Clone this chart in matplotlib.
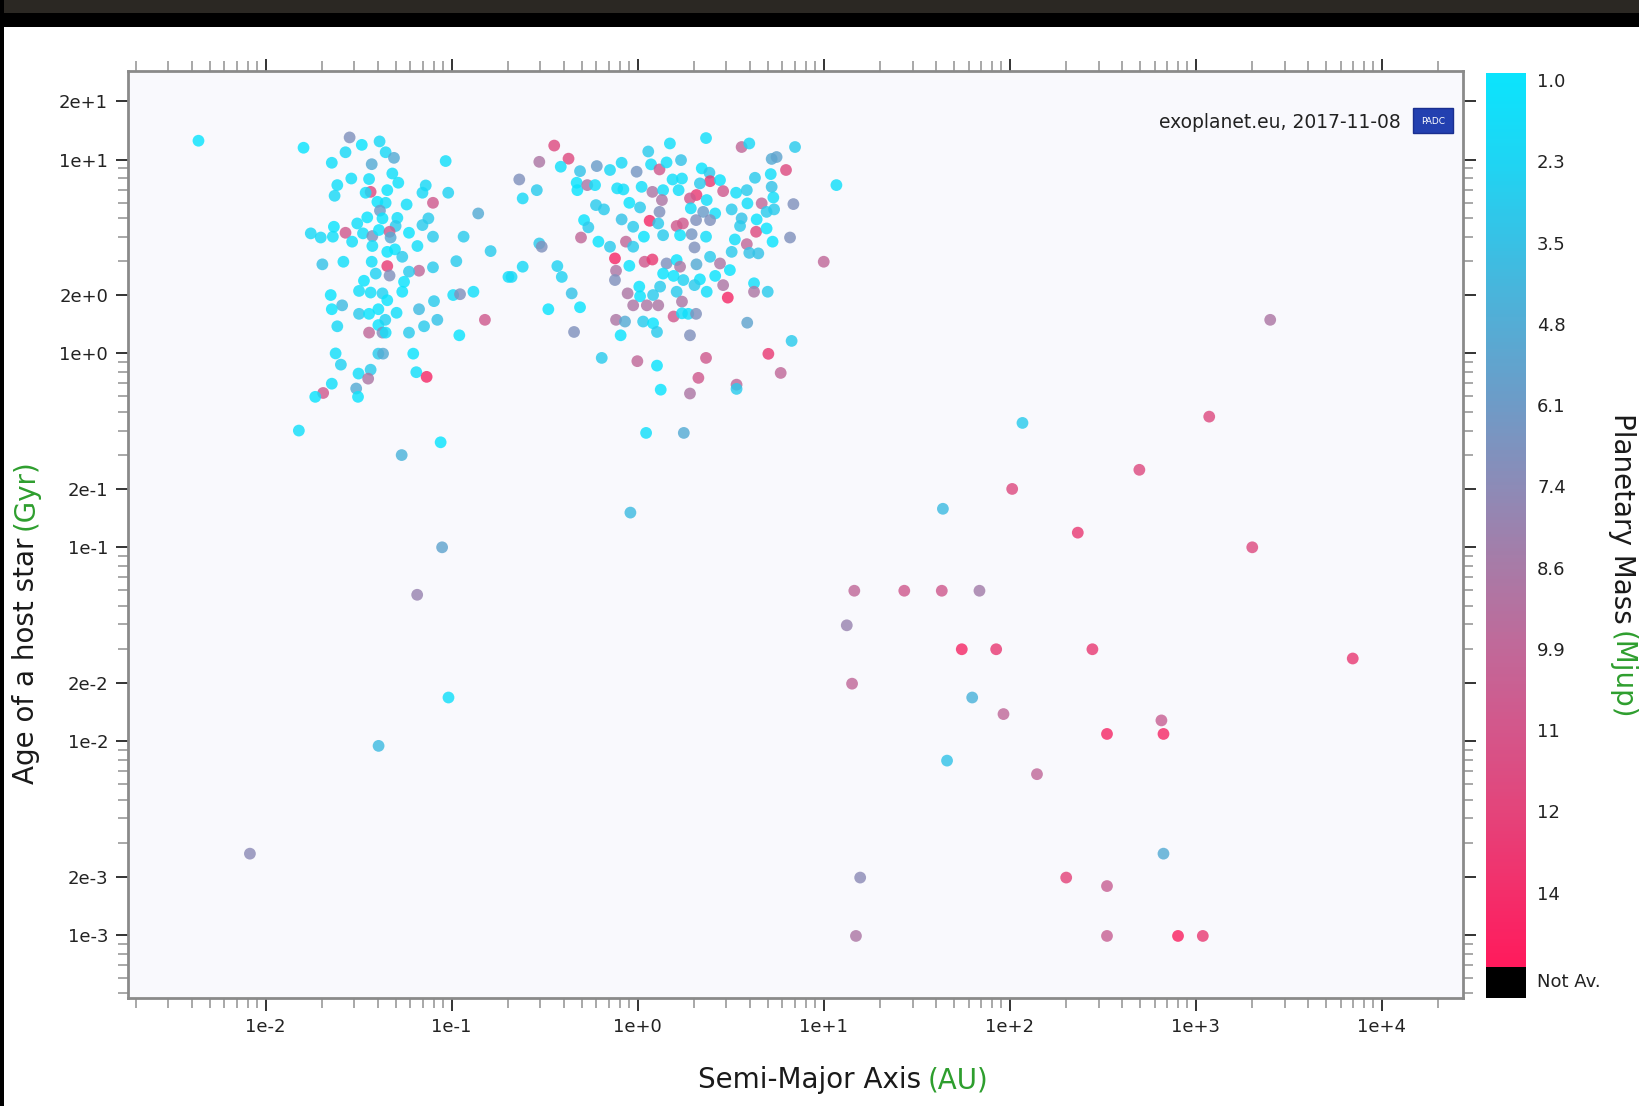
import numpy as np
import matplotlib.pyplot as plt
from matplotlib.colors import LinearSegmentedColormap, Normalize
from matplotlib.ticker import FuncFormatter, NullFormatter
from matplotlib.patches import Rectangle

# ---- data (semi-major axis [AU], host age [Gyr], mass [Mjup])
inner_sma = [
    0.00436, 0.0160, 0.0283, 0.0329, 0.0410, 0.0269, 0.0442, 0.0490, 0.0227, 0.0372,
    0.0929, 0.0480, 0.0289, 0.0360, 0.0517, 0.0243, 0.0726, 0.0235, 0.0367, 0.0345,
    0.0451, 0.0697, 0.0959, 0.0399, 0.0442, 0.0573, 0.0794, 0.139, 0.0412, 0.0352,
    0.0425, 0.0511, 0.0311, 0.0500, 0.0750, 0.0697, 0.0233, 0.0175, 0.0198, 0.0230,
    0.0269, 0.0334, 0.0375, 0.0407, 0.0464, 0.0470, 0.0590, 0.0794, 0.116, 0.0292,
    0.0375, 0.0655, 0.162, 0.0451, 0.0496, 0.0543, 0.0202, 0.0262, 0.0372, 0.0451,
    0.106, 0.0794, 0.0668, 0.0590, 0.0391, 0.0464, 0.202, 0.0338, 0.0555, 0.0318,
    0.0367, 0.0425, 0.0451, 0.0543, 0.0224, 0.0804, 0.102, 0.111, 0.131, 0.0258,
    0.0668, 0.0227, 0.0318, 0.0360, 0.0404, 0.0506, 0.0243, 0.0404, 0.0440, 0.0360,
    0.0425, 0.0442, 0.0590, 0.0711, 0.0838, 0.151, 0.110, 0.0238, 0.0254, 0.0404,
    0.0428, 0.0622, 0.0367, 0.0316, 0.0356, 0.0646, 0.0734, 0.0227, 0.0204, 0.0185,
    0.0307, 0.0314, 0.0151, 0.0873, 0.0539,
]
inner_age = [
    12.5, 11.5, 13.0, 11.9, 12.4, 10.9, 10.9, 10.2, 9.62, 9.46,
    9.82, 8.47, 7.98, 7.93, 7.59, 7.38, 7.35, 6.50, 6.81, 6.74,
    6.95, 6.74, 6.74, 6.05, 5.98, 5.86, 5.98, 5.27, 5.45, 5.03,
    4.97, 5.00, 4.68, 4.54, 4.97, 4.59, 4.50, 4.16, 3.96, 4.00,
    4.19, 4.16, 4.03, 4.33, 4.24, 3.96, 4.19, 4.00, 4.00, 3.77,
    3.58, 3.58, 3.37, 3.34, 3.44, 3.15, 2.88, 2.97, 2.97, 2.82,
    2.99, 2.78, 2.67, 2.64, 2.58, 2.52, 2.48, 2.37, 2.34, 2.10,
    2.06, 2.04, 1.88, 2.08, 2.00, 1.86, 2.00, 2.02, 2.08, 1.77,
    1.69, 1.69, 1.60, 1.60, 1.69, 1.62, 1.38, 1.40, 1.49, 1.28,
    1.28, 1.28, 1.28, 1.38, 1.49, 1.49, 1.24, 1.00, 0.875, 0.997,
    0.997, 0.997, 0.824, 0.787, 0.741, 0.800, 0.757, 0.698, 0.625, 0.597,
    0.659, 0.597, 0.400, 0.348, 0.299,
]
inner_mass = [
    1, 1, 7, 1, 2, 2, 2, 5, 1.5, 5,
    1.5, 1.5, 1.5, 1.5, 1.3, 1.5, 2, 2, 12, 1.5,
    1, 2, 2.5, 1, 1.5, 1.5, 11, 5, 6, 1,
    1, 1.5, 1.5, 3, 3, 3, 1, 2, 2, 1.5,
    11, 1.5, 7, 1, 11, 5, 1, 3, 3, 1.5,
    1.5, 1.5, 3, 1, 1, 3, 3.5, 1.5, 1.5, 13,
    3, 3, 10, 3, 2.5, 7, 1.5, 1, 1, 1.5,
    1.5, 2.5, 1, 1, 1, 3, 1.5, 7, 1.5, 4,
    4, 1, 3, 1, 1, 1.5, 2, 1, 2.5, 10,
    7, 1.5, 3, 3, 3.5, 11, 1, 1.5, 2.5, 3,
    5, 1, 3, 1.5, 9, 1.5, 14, 1.5, 11, 1,
    5, 1, 1.5, 1, 4.5,
]

mid_sma = [
    0.356, 0.425, 0.296, 0.386, 0.231, 0.287, 0.241, 0.490, 0.603, 0.710,
    0.820, 0.987, 1.14, 1.49, 2.33, 1.18, 1.31, 1.43, 1.71, 3.62,
    3.98, 7.01, 5.25, 5.58, 6.27, 11.7, 0.470, 0.474, 0.536, 0.590,
    0.776, 0.838, 1.05, 1.20, 1.37, 1.54, 1.73, 1.66, 2.21, 2.43,
    2.45, 2.77, 2.16, 2.07, 1.91, 2.35, 2.88, 3.38, 3.86, 4.27,
    5.19, 5.25, 5.36, 4.64, 3.89, 6.87, 0.597, 0.659, 0.902, 1.03,
    1.35, 1.31, 1.93, 2.25, 2.61, 3.20, 3.62, 4.36, 4.93, 5.41,
    0.515, 0.543, 0.820, 0.946, 1.16, 1.29, 1.62, 1.75, 2.06, 2.45,
    3.55, 4.33, 4.93, 0.496, 0.615, 0.710, 0.865, 0.946, 1.08, 1.37,
    1.69, 1.95, 2.33, 2.02, 3.33, 3.86, 5.31, 6.59, 0.296, 0.305,
    3.20, 3.98, 4.45, 10.0, 0.755, 0.902, 1.09, 1.20, 1.43, 1.62,
    1.69, 2.07, 2.45, 2.77, 3.13, 0.241, 0.210, 0.370, 0.391, 0.765,
    0.755, 1.37, 1.56, 1.76, 2.16, 2.61, 2.88, 1.02, 1.32, 1.62,
    2.02, 2.35, 3.05, 4.22, 4.22, 5.00, 0.442, 0.883, 1.03, 1.21,
    1.73, 0.946, 1.12, 1.29, 0.331, 0.490, 0.455, 0.765, 0.855, 1.07,
    1.21, 1.27, 1.56, 1.73, 1.87, 2.06, 1.91, 0.810, 3.88, 6.72,
    0.641, 0.996, 1.27, 2.33, 5.04, 2.12, 5.87, 1.33, 1.91, 3.40,
    3.40, 1.11, 1.77,
]
mid_age = [
    11.8, 10.1, 9.73, 9.18, 7.89, 6.95, 6.30, 8.71, 9.25, 8.83,
    9.62, 8.65, 11.0, 12.1, 12.9, 9.44, 8.89, 9.66, 9.93, 11.6,
    12.1, 11.6, 10.07, 10.3, 8.83, 7.38, 7.59, 6.95, 7.38, 7.38,
    7.10, 7.01, 7.23, 6.81, 6.95, 7.89, 7.98, 6.95, 9.00, 8.55,
    7.73, 7.83, 7.53, 6.56, 6.30, 6.18, 6.87, 6.74, 6.95, 8.05,
    8.41, 7.23, 6.37, 5.94, 5.94, 5.89, 5.82, 5.53, 5.98, 5.66,
    6.18, 5.37, 5.60, 5.37, 5.27, 5.53, 4.97, 4.91, 5.37, 5.53,
    4.87, 4.47, 4.91, 4.50, 4.83, 4.68, 4.54, 4.68, 4.87, 4.87,
    4.54, 4.24, 4.41, 3.96, 3.77, 3.55, 3.77, 3.55, 4.00, 4.07,
    4.07, 4.12, 4.00, 3.52, 3.87, 3.66, 3.77, 3.96, 3.69, 3.55,
    3.34, 3.30, 3.28, 2.97, 3.09, 2.83, 2.97, 3.05, 2.91, 3.03,
    2.80, 2.88, 3.15, 2.91, 2.69, 2.80, 2.48, 2.82, 2.48, 2.67,
    2.39, 2.58, 2.51, 2.39, 2.41, 2.51, 2.25, 2.21, 2.21, 2.08,
    2.25, 2.08, 1.94, 2.30, 2.08, 2.08, 2.04, 2.04, 1.97, 2.00,
    1.85, 1.77, 1.77, 1.77, 1.69, 1.73, 1.29, 1.49, 1.46, 1.46,
    1.43, 1.29, 1.55, 1.61, 1.60, 1.60, 1.24, 1.24, 1.44, 1.16,
    0.948, 0.912, 0.865, 0.948, 0.995, 0.748, 0.793, 0.650, 0.621, 0.690,
    0.656, 0.389, 0.389,
]
mid_mass = [
    12, 12, 9, 1.5, 7, 3, 2, 3.5, 6, 2,
    2, 6.5, 3, 1.5, 1.5, 1.5, 11, 1.5, 3.5, 10,
    2, 3, 5, 5.5, 12, 1.5, 1, 1, 9, 1.5,
    1.5, 1.5, 1.5, 9, 1.5, 1.5, 1.5, 1.5, 1, 3,
    13, 1, 3, 13, 11, 1.5, 11, 1.5, 3, 3,
    1.5, 3.5, 1.5, 10, 1.5, 7, 3, 3, 1, 3,
    9, 7, 1.5, 6, 1.5, 3, 3.5, 1, 3, 3,
    1, 3, 3.5, 3, 14, 3, 11, 11, 7, 7,
    3, 12, 1, 10, 1, 3, 10, 3, 1, 3,
    1, 6.5, 1.5, 7, 1.5, 10, 1, 7, 3, 7,
    3, 3.5, 3.5, 10, 14, 1, 11, 13, 7, 1,
    9, 5, 3, 9, 1, 2, 2, 2.5, 2.5, 9,
    7, 1, 1, 2.5, 1, 1, 9, 1, 3, 3,
    3, 1.5, 14, 1.5, 9, 3, 3.5, 9, 1, 3,
    9, 9, 9, 9, 1, 1, 7, 9, 5, 3,
    1, 3, 11, 1.5, 1.5, 7, 7, 1, 5.5, 3,
    3, 10, 1, 11, 13, 11, 10, 1, 9, 10,
    3, 1.5, 5,
]

young_sma = [0.914, 0.0889, 0.0653, 0.0962, 0.0405, 0.00824]
young_age = [0.151, 0.100, 0.0569, 0.0168, 0.00946, 0.00263]
young_mass = [4, 5.5, 8, 1.5, 4, 7.5]

outer_sma = [
    2510, 1180, 117, 497, 103, 43.7, 232, 2010, 14.6, 27.1,
    43.1, 68.7, 13.3, 55.2, 84.5, 278, 6970, 14.2, 62.8, 92.5,
    653, 333, 670, 46.0, 140, 670, 15.7, 201, 333, 14.9,
    333, 802, 1090,
]
outer_age = [
    1.49, 0.472, 0.438, 0.251, 0.200, 0.158, 0.119, 0.100, 0.0597, 0.0597,
    0.0597, 0.0597, 0.0396, 0.0298, 0.0298, 0.0298, 0.0267, 0.0198, 0.0168, 0.0138,
    0.0128, 0.0109, 0.0109, 0.00794, 0.00676, 0.00263, 0.00198, 0.00198, 0.00179, 0.00099,
    0.00099, 0.00099, 0.00099,
]
outer_mass = [
    9, 12, 3, 12, 12, 4, 13, 12, 10, 11,
    11, 8.5, 8, 14, 13, 13, 13, 10, 4.5, 10,
    10.5, 14, 14, 3.5, 10, 5, 7.5, 12.5, 10.5, 9,
    10.5, 14.5, 13,
]

mass_tick_labels = ['1.0', '2.3', '3.5', '4.8', '6.1', '7.4', '8.6', '9.9', '11', '12', '14']
mass_min, mass_max = 1.0, 15.0

sma = np.array(inner_sma + mid_sma + young_sma + outer_sma)
age = np.array(inner_age + mid_age + young_age + outer_age)
mass = np.array(inner_mass + mid_mass + young_mass + outer_mass)

cmap = LinearSegmentedColormap.from_list('exo', [
    '#0be4fd', '#1dd6f4', '#36c2e6', '#52aed6', '#6c9cc8', '#8a8cb8',
    '#a67ca8', '#bf6a9a', '#d2588c', '#e2467c', '#f2306c', '#ff1a5c'])
norm = Normalize(mass_min, mass_max)

W, H = 1639, 1106
fig = plt.figure(figsize=(W / 100, H / 100), dpi=100)

# window frame bits at the top / left of the screenshot
fig.add_artist(Rectangle((0, 1 - 13 / H), 1, 13 / H, transform=fig.transFigure,
                         facecolor='#2b2823', edgecolor='none'))
fig.add_artist(Rectangle((0, 1 - 27 / H), 1, 14 / H, transform=fig.transFigure,
                         facecolor='black', edgecolor='none'))
fig.add_artist(Rectangle((0, 0), 4 / W, 1, transform=fig.transFigure,
                         facecolor='black', edgecolor='none'))

ax = fig.add_axes([127.5 / W, 1 - 998.3 / H, (1463.4 - 127.5) / W, (998.3 - 71.1) / H])
ax.set_facecolor('#f9f9fd')
ax.scatter(sma, age, c=mass, cmap=cmap, norm=norm, s=72, alpha=0.82,
           edgecolors='none', zorder=3)
ax.set_xscale('log')
ax.set_yscale('log')
xlo, xhi = 10 ** -2.742, 10 ** 4.438
ylo, yhi = 10 ** -3.326, 10 ** 1.456
ax.set_xlim(xlo, xhi)
ax.set_ylim(ylo, yhi)


def decade_ticks(lo, hi, mults):
    out = []
    for e in range(int(np.floor(np.log10(lo))), int(np.ceil(np.log10(hi))) + 1):
        for m in mults:
            v = m * 10.0 ** e
            if lo <= v <= hi:
                out.append(v)
    return out


def xfmt(v, _):
    return "1e{:+d}".format(int(round(np.log10(v))))


def yfmt(v, _):
    e = int(np.floor(np.log10(v) + 1e-9))
    return "{:.0f}e{:+d}".format(v / 10 ** e, e)


ax.set_xticks(decade_ticks(xlo, xhi, [1]))
ax.set_xticks(decade_ticks(xlo, xhi, range(2, 10)), minor=True)
ax.set_yticks(decade_ticks(ylo, yhi, [1, 2]))
ax.set_yticks(decade_ticks(ylo, yhi, range(3, 10)), minor=True)
ax.xaxis.set_major_formatter(FuncFormatter(xfmt))
ax.xaxis.set_minor_formatter(NullFormatter())
ax.yaxis.set_major_formatter(FuncFormatter(yfmt))
ax.yaxis.set_minor_formatter(NullFormatter())

ax.tick_params(which='both', direction='out', top=True, right=True,
               labelsize=13, labelcolor='#222222', pad=5)
ax.tick_params(which='major', length=9, width=1.4, color='#333333')
ax.tick_params(which='minor', length=7.5, width=1.2, color='#9a9a9a')
for sp in ax.spines.values():
    sp.set_color('#8a8a8a')
    sp.set_linewidth(2)

# source note + badge
fig.text(1401 / W, 1 - 122 / H, 'exoplanet.eu, 2017-11-08',
         ha='right', va='center', fontsize=13.5, color='#222222')
fig.add_artist(Rectangle((1413 / W, 1 - 133 / H), 40 / W, 25 / H, transform=fig.transFigure,
                         facecolor='#2340b0', edgecolor='#1a2f90', zorder=5))
fig.text(1433 / W, 1 - 121 / H, 'PADC', color='white', fontsize=6.5,
         ha='center', va='center', zorder=6)

# colour bar
cax = fig.add_axes([1486 / W, 1 - 967 / H, 40 / W, (967 - 73) / H])
sm = plt.cm.ScalarMappable(norm=norm, cmap=cmap)
cb = fig.colorbar(sm, cax=cax)
cb.outline.set_visible(False)
cax.invert_yaxis()
cb.set_ticks(np.linspace(mass_min, mass_max, len(mass_tick_labels) + 1)[:-1],
             labels=mass_tick_labels)
cb.minorticks_off()
cax.tick_params(length=0, labelsize=13, labelcolor='#222222', pad=8)
for t in cax.get_yticklabels():
    t.set_va('top')

# "not available" swatch under the bar
fig.add_artist(Rectangle((1486 / W, 1 - 998 / H), 40 / W, 31 / H, transform=fig.transFigure,
                         facecolor='black', edgecolor='none'))
fig.text(1537 / W, 1 - 982 / H, 'Not Av.', ha='left', va='center',
         fontsize=13, color='#222222')

# axis titles with green units
green = '#2e9e2e'
fig.canvas.draw()
r = fig.canvas.get_renderer()

t = fig.text(698 / W, 1 - 1080 / H, 'Semi-Major Axis', fontsize=20, ha='left', va='center',
             color='#1a1a1a')
bb = t.get_window_extent(r)
fig.text((bb.x1 + 7) / W, 1 - 1080 / H, '(AU)', fontsize=20, ha='left', va='center', color=green)

t = fig.text(26 / W, 1 - 784 / H, 'Age of a host star', fontsize=20, rotation=90,
             ha='center', va='bottom', color='#1a1a1a')
bb = t.get_window_extent(r)
fig.text(26 / W, (bb.y1 + 7) / H, '(Gyr)', fontsize=20, rotation=90,
         ha='center', va='bottom', color=green)

t = fig.text(1622 / W, 1 - 413 / H, 'Planetary Mass', fontsize=20, rotation=-90,
             ha='center', va='top', color='#1a1a1a')
bb = t.get_window_extent(r)
fig.text(1622 / W, (bb.y0 - 7) / H, '(Mjup)', fontsize=20, rotation=-90,
         ha='center', va='top', color=green)

fig.savefig('out.png', dpi=100)
